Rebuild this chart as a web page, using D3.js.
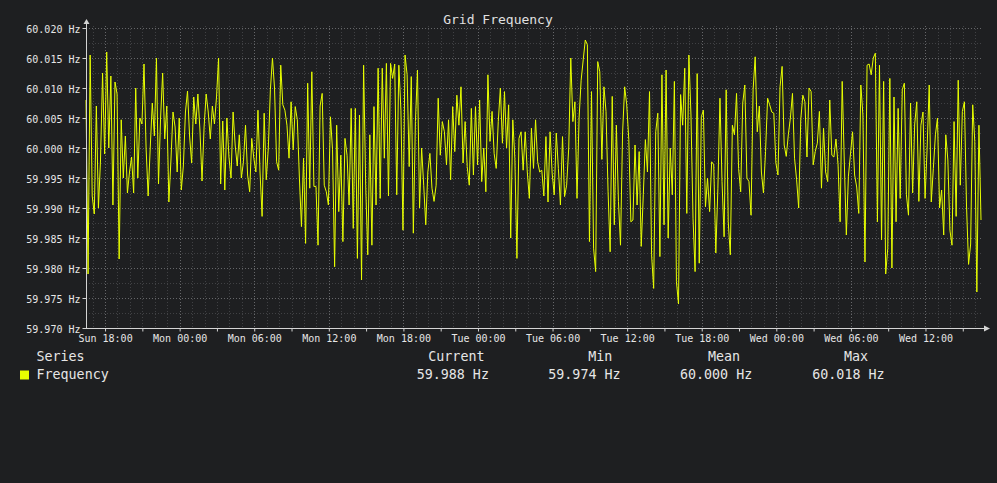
<!DOCTYPE html>
<html><head><meta charset="utf-8">
<script src="https://cdn.jsdelivr.net/npm/d3@7"></script>
<style>
html,body{margin:0;padding:0;background:#1e1f21;}
svg{display:block;}
</style></head><body>
<svg id="chart" width="997" height="483"></svg>
<script>
// ---- chart content ----
const chartTitle = "Grid Frequency";
const seriesName = "Frequency";
const legendHeaders = ["Current", "Min", "Mean", "Max"];
const legendValues = ["59.988 Hz", "59.974 Hz", "60.000 Hz", "60.018 Hz"];
const yDomain = [59.970, 60.020];
const startTime = new Date(2024, 0, 7, 16, 28); // Sunday 16:28
const stepMinutes = 10;

// frequency deviation from 60 Hz in mHz, one block per 12 hours (10-minute samples)
const devBlock1 = [
  8, -21, 15.5, -8, -11, 7, -10, -2, 12.5, -1,
  16, 0, 12, -9.5, 11, 9, -18.5, 4.7, -5, 2,
  -7.5, -4, -1.5, -7.5, 10, -5, 5, 4, 14, 0,
  -8, 0, 7.5, 2, 15, -6, 5, 12.5, 1.5, 7,
  -9, -2, 6, 3.5, -4, 5, -7, -3, 6, 9.5,
  2, -2.5, 8.5, 4, 9, 3, -5.5, 3.5, 9, 6,
  1.5, 7, 4, 8.5, 15, -6, 4.5, -7, 5, -1.5,
  -5, 6
];
const devBlock2 = [
  0.5, -3, 2.2, -5, -2.3, 3.8, -4.5, -7.3, 1.6, -1.7,
  -4, 6.3, -4, -11.4, 5.8, -5.3, 0, 9.7, 15, 10,
  -2.3, -3.7, 13.8, 7.2, 6.3, 3.8, -1.7, 7.7, -0.3, 6.9,
  4.7, -5, -13.1, -1.7, -15.9, 10.8, -6.7, 12.7, -6.4, -6.4,
  -16.2, 7, 9.1, -6.2, -7.3, -9.5, 5.2, -0.3, -19.8, 3.8,
  -10.6, -1.2, -15.6, 1.6, -1.2, -9.5, 6.6, -13.4, 6.6, -18.4,
  5.5, -22, 13.8, -6.2, -17.8, 2.2, -16.2, 6.9, -9.5, 13.3,
  -8.4, 13.3
];
const devBlock3 = [
  -1.7, 14.1, -8, 14.1, 11.6, 14, -7.8, 13.8, 6.3, -13.7,
  15.5, 12.2, -3.1, 11.9, -14.2, 4.4, 13, -10, 0, -6.2,
  -12.8, -4, -0.9, -6.7, -8.9, -6.2, 8.3, -1.2, 4.4, 2.7,
  -2.8, 4.7, -5.3, 6.9, -0.6, 8.8, 3.8, 10.2, -2.5, 4.4,
  -3.1, -6.2, 6.6, -4.5, 6.9, -2.8, 8, -5.6, 0, -7.3,
  12.2, 1.1, 6.1, -0.9, -3.4, 4.4, 10, 0.8, 9.4, 0,
  7.2, -15, 4.7, -1.7, -18.4, 1.6, 2.7, -3.7, 2.7, -4,
  -8.4, 3.3
];
const devBlock4 = [
  -3.4, 4.7, -2.3, -4, -3.7, -8, 1.9, -9, 2.7, -4.2,
  -7.8, 2.5, -3.4, -9.5, 1.9, -8.1, -6.2, 0, 15, 4.4,
  7.7, -8.4, 5, 11.3, 14.7, 18, 17.2, -15.6, 9.4, -16.7,
  -20.6, 14.4, 12.7, -1.9, 10.2, 6.1, -7.3, -17.3, 8.6, -12.8,
  3.8, -8.9, -16.2, 2.5, 10.2, 7.2, 1.4, -12.3, -12, 0.5,
  -9.5, -0.6, -16.4, -7.8, 1.4, -4, 9.4, -17.8, -23.4, 2.7,
  5.8, -18.1, 12.2, -12.8, 13, -15, 0, -7.8, 11.1, -22.3,
  -26, 8.9
];
const devBlock5 = [
  3.8, 13.3, -10.9, 15.5, 5.5, -11.7, -20.6, 12.4, -19.2, 5.2,
  6.3, -9.8, -5, -10.6, -2.3, -2.8, -17.5, -6.7, 8.3, -5.6,
  -14.8, 9.7, -12.3, -17.8, 3.8, 2.2, 9.1, -3.4, -7.3, 7.5,
  10.5, -5, -5.6, -11.2, 9.7, 15.2, 2.7, 7, -4, -7.5,
  -0.6, 8.3, 7.2, 6, 5.8, -2.5, -4.5, 10.2, 13.6, 0.5,
  -1.4, 2.2, 5, 9.1, -1.7, -5.3, -10, 4.7, 8.8, 7.7,
  -1.5, 10, 9.4, -2.8, -0.6, 0.8, 6.1, -6.7, 3.3, -4,
  -5.6, 8
];
const devBlock6 = [
  -1.2, -1.5, 1.5, -2.8, -12.3, 11.1, -2, -14.5, -4.7, -1,
  2.7, -4.5, -6.5, -10.9, 10.5, 5.5, -19, 13.8, 14, 12.2,
  15, 15.8, -12.3, 13.8, -15.3, 11.1, -21, -16.7, 11.6, -20,
  8.5, -12.3, 6.6, -8.4, 9.7, 10.8, -7.8, -11.2, 7.5, -7.5,
  4, 7.7, -8.9, 3.8, 6, -8.4, 0, 10.5, -9, -3.4,
  2.2, 5, -10, -7, -14.5, 2.2, -2, -13.7, -16.2, 4.4,
  -11.4, 11.3, -6.2, 6.1, 7.7, -9.5, -19.4, -16, 7.2, 1.1,
  -24, 3.8, -12
];

// ---- build ----
const dev = [].concat(devBlock1, devBlock2, devBlock3, devBlock4, devBlock5, devBlock6);
const data = dev.map((d, i) => ({
  t: new Date(startTime.getTime() + i * stepMinutes * 60000),
  v: 60 + d / 1000
}));

const FONT = "'DejaVu Sans Mono', 'Liberation Mono', monospace";
const plot = {left: 86, right: 981, top: 28, bottom: 328};

const svg = d3.select("#chart");
svg.append("rect").attr("width", 997).attr("height", 483).attr("fill", "#1e1f21");

const x = d3.scaleTime()
  .domain([data[0].t, data[data.length - 1].t])
  .range([plot.left, plot.right]);
const y = d3.scaleLinear().domain(yDomain).range([plot.bottom, plot.top]);

// grid
const g = svg.append("g");
const minorX = x.ticks(d3.timeHour.every(1));
const majorX = x.ticks(d3.timeHour.every(6));
const yMinor = d3.range(0, 21).map(i => yDomain[0] + i * 0.0025);
const yMajor = d3.range(0, 11).map(i => yDomain[0] + i * 0.005);

g.selectAll("line.vmin").data(minorX).join("line")
  .attr("x1", d => Math.round(x(d)) + 0.5).attr("x2", d => Math.round(x(d)) + 0.5)
  .attr("y1", plot.top - 2).attr("y2", plot.bottom)
  .attr("stroke", "#404144").attr("stroke-dasharray", "1,2");
g.selectAll("line.hmin").data(yMinor).join("line")
  .attr("x1", plot.left).attr("x2", plot.right + 2)
  .attr("y1", d => Math.round(y(d)) + 0.5).attr("y2", d => Math.round(y(d)) + 0.5)
  .attr("stroke", "#404144").attr("stroke-dasharray", "1,2");
g.selectAll("line.vmaj").data(majorX).join("line")
  .attr("x1", d => Math.round(x(d)) + 0.5).attr("x2", d => Math.round(x(d)) + 0.5)
  .attr("y1", plot.top - 2).attr("y2", plot.bottom)
  .attr("stroke", "#66676a").attr("stroke-dasharray", "1,2");
g.selectAll("line.hmaj").data(yMajor).join("line")
  .attr("x1", plot.left).attr("x2", plot.right + 2)
  .attr("y1", d => Math.round(y(d)) + 0.5).attr("y2", d => Math.round(y(d)) + 0.5)
  .attr("stroke", "#66676a").attr("stroke-dasharray", "1,2");

// data line
const line = d3.line().x(d => x(d.t)).y(d => y(d.v));
svg.append("path").datum(data)
  .attr("d", line)
  .attr("fill", "none")
  .attr("stroke", "#e8ff00")
  .attr("stroke-width", 1)
  .attr("stroke-linejoin", "miter");

// axes
const axisColor = "#d4d4d4";
const yAxis = d3.axisLeft(y).tickValues(yMajor).tickSize(4).tickPadding(2)
  .tickFormat(d => d3.format(".3f")(d) + " Hz");
const ya = svg.append("g").attr("transform", `translate(${plot.left + 0.5},0)`).call(yAxis);
ya.select(".domain").remove();
ya.selectAll("line").attr("stroke", axisColor);
ya.selectAll("text").attr("fill", "#e6e6e6").attr("font-family", FONT).attr("font-size", 10).attr("dy", "0.42em");

const xAxis = d3.axisBottom(x).tickValues(x.ticks(d3.timeHour.every(3))).tickSize(3).tickPadding(2.9)
  .tickFormat(d => d.getHours() % 6 === 0 ? d3.timeFormat("%a %H:%M")(d) : "");
const xa = svg.append("g").attr("transform", `translate(0,${plot.bottom + 0.5})`).call(xAxis);
xa.select(".domain").remove();
xa.selectAll("line").attr("stroke", axisColor);
xa.selectAll("text").attr("fill", "#e6e6e6").attr("font-family", FONT).attr("font-size", 10);

// axis lines with arrows
svg.append("line").attr("x1", plot.left + 0.5).attr("x2", plot.left + 0.5)
  .attr("y1", plot.bottom + 1).attr("y2", plot.top - 5).attr("stroke", axisColor);
svg.append("path").attr("d", `M${plot.left - 2.5},${plot.top - 4} L${plot.left + 3.5},${plot.top - 4} L${plot.left + 0.5},${plot.top - 9} Z`)
  .attr("fill", axisColor);
svg.append("line").attr("x1", plot.left).attr("x2", plot.right + 4)
  .attr("y1", plot.bottom + 0.5).attr("y2", plot.bottom + 0.5).attr("stroke", axisColor);
svg.append("path").attr("d", `M${plot.right + 3},${plot.bottom - 2.5} L${plot.right + 3},${plot.bottom + 3.5} L${plot.right + 9},${plot.bottom + 0.5} Z`)
  .attr("fill", axisColor);

// title
svg.append("text").attr("x", 498).attr("y", 23.5).attr("text-anchor", "middle")
  .attr("font-family", FONT).attr("font-size", 13).attr("fill", "#e0e0e0")
  .text(chartTitle);

// legend
const LFS = 13.33;
const legend = svg.append("g").attr("font-family", FONT).attr("font-size", LFS).attr("fill", "#e6e6e6");
legend.append("text").attr("x", 36.5).attr("y", 360.7).text("Series");
legend.append("rect").attr("x", 20).attr("y", 370.5).attr("width", 9).attr("height", 9).attr("fill", "#e8ff00");
legend.append("text").attr("x", 36.5).attr("y", 379).text(seriesName);
const headerX = [428.3, 588.3, 708, 844];
const valueX = [416.7, 548.3, 680, 812.3];
legend.selectAll("text.hdr").data(legendHeaders).join("text").attr("class", "hdr")
  .attr("x", (d, i) => headerX[i]).attr("y", 360.7).text(d => d);
legend.selectAll("text.val").data(legendValues).join("text").attr("class", "val")
  .attr("x", (d, i) => valueX[i]).attr("y", 379).text(d => d);
</script>
</body></html>
